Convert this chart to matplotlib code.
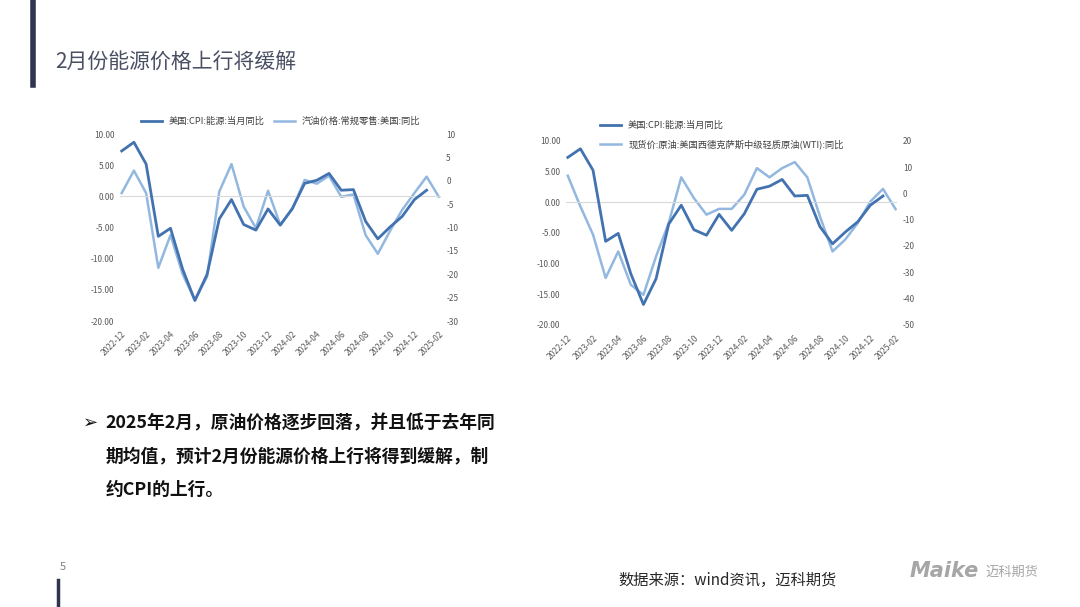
import numpy as np
import matplotlib
matplotlib.use("Agg")
import matplotlib.pyplot as plt

plt.rcParams['font.family'] = ['Noto Sans CJK SC', 'DejaVu Sans']
plt.rcParams['axes.unicode_minus'] = False

# months 2022-12 .. 2025-02
months = ['2022-12', '2023-01', '2023-02', '2023-03', '2023-04', '2023-05', '2023-06',
          '2023-07', '2023-08', '2023-09', '2023-10', '2023-11', '2023-12', '2024-01',
          '2024-02', '2024-03', '2024-04', '2024-05', '2024-06', '2024-07', '2024-08',
          '2024-09', '2024-10', '2024-11', '2024-12', '2025-01', '2025-02']

# US CPI energy yoy (ends 2025-01)
cpi_energy = [7.3, 8.7, 5.2, -6.4, -5.1, -11.7, -16.7, -12.5, -3.6, -0.5, -4.5, -5.4, -2.0,
              -4.6, -1.9, 2.1, 2.6, 3.7, 1.0, 1.1, -4.0, -6.8, -4.9, -3.2, -0.5, 1.0]

# gasoline retail price yoy (right axis, left chart)
gasoline = [-2.6, 2.2, -2.6, -18.6, -11.6, -20.0, -25.5, -20.5, -2.3, 3.6, -5.5, -10.1, -2.1,
            -9.4, -6.0, 0.2, -0.6, 1.1, -3.4, -2.9, -11.6, -15.6, -10.7, -6.2, -2.6, 0.9, -3.4]

# WTI spot yoy (right axis, right chart)
wti = [6.7, -5.0, -15.7, -32.2, -22.1, -34.8, -38.6, -24.0, -11.3, 6.1, -1.8, -8.1, -5.9,
       -5.9, -0.5, 9.6, 6.1, 9.6, 11.9, 6.1, -8.8, -22.1, -17.6, -11.3, -3.1, 1.7, -6.0]

left_ticks = [10, 5, 0, -5, -10, -15, -20]
gas_ticks = [10, 5, 0, -5, -10, -15, -20, -25, -30]
wti_ticks = [20, 10, 0, -10, -20, -30, -40, -50]

DARK = '#4273B0'
LIGHT = '#93B8E0'
TICK = '#595959'

fig = plt.figure(figsize=(10.8, 6.07), dpi=100)
fig.patch.set_facecolor('white')

x = np.arange(len(months))


def style_axes(ax, ax2, ylim2, yticks2):
    ax.set_xlim(-0.15, len(months) - 0.85)
    ax.set_ylim(-20, 10)
    ax.set_yticks(left_ticks)
    ax.set_yticklabels([f'{v:.2f}' for v in left_ticks])
    ax.set_xticks(x[::2])
    ax.set_xticklabels(months[::2], rotation=45, ha='right', rotation_mode='anchor')
    ax.axhline(0, color='#d9d9d9', lw=0.8, zorder=0)
    ax2.set_ylim(*ylim2)
    ax2.set_yticks(yticks2)
    for a in (ax, ax2):
        for s in a.spines.values():
            s.set_visible(False)
        a.tick_params(length=0, labelsize=6, colors=TICK, pad=4)
    ax.tick_params(axis='x', pad=6)


# left chart
ax1 = fig.add_axes([0.111, 0.471, 0.297, 0.308])
ax1b = ax1.twinx()
l1, = ax1.plot(x[:len(cpi_energy)], cpi_energy, color=DARK, lw=2.0, zorder=3)
l2, = ax1b.plot(x, gasoline, color=LIGHT, lw=1.8, zorder=2)
ax1.set_zorder(ax1b.get_zorder() + 1)
ax1.patch.set_visible(False)
style_axes(ax1, ax1b, (-30, 10), gas_ticks)
fig.legend([l1, l2], ['美国:CPI:能源:当月同比', '汽油价格:常规零售:美国:同比'],
           loc='center', bbox_to_anchor=(0.26, 0.80), ncol=2, frameon=False,
           fontsize=6.7, handlelength=2.2, columnspacing=1.0, labelcolor='#404040')

# right chart
ax2 = fig.add_axes([0.524, 0.465, 0.307, 0.303])
ax2b = ax2.twinx()
r1, = ax2.plot(x[:len(cpi_energy)], cpi_energy, color=DARK, lw=2.0, zorder=3)
r2, = ax2b.plot(x, wti, color=LIGHT, lw=1.8, zorder=2)
ax2.set_zorder(ax2b.get_zorder() + 1)
ax2.patch.set_visible(False)
style_axes(ax2, ax2b, (-50, 20), wti_ticks)
fig.legend([r1, r2], ['美国:CPI:能源:当月同比', '现货价:原油:美国西德克萨斯中级轻质原油(WTI):同比'],
           loc='upper left', bbox_to_anchor=(0.548, 0.815), ncol=1, frameon=False,
           fontsize=6.7, handlelength=2.2, labelspacing=1.0, labelcolor='#404040')

# page decoration
fig.add_artist(plt.Line2D([0.031, 0.031], [1.0, 0.86], color='#2F3450', lw=4,
                          transform=fig.transFigure))
fig.text(0.051, 0.897, '2月份能源价格上行将缓解', fontsize=15, color='#4A4F63',
         va='center', ha='left')

fig.text(0.077, 0.303, '➢', fontsize=13, color='#111111', va='center', ha='left',
         family=['DejaVu Sans'])
lines = ['2025年2月，原油价格逐步回落，并且低于去年同',
         '期均值，预计2月份能源价格上行将得到缓解，制',
         '约CPI的上行。']
for i, t in enumerate(lines):
    fig.text(0.098, 0.303 - i * 0.055, t, fontsize=12.8, fontweight='bold',
             color='#111111', va='center', ha='left')

fig.text(0.055, 0.066, '5', fontsize=8, color='#7F7F7F', va='center')
fig.add_artist(plt.Line2D([0.0535, 0.0535], [0.045, 0.0], color='#2F3450', lw=2.5,
                          transform=fig.transFigure))
fig.text(0.573, 0.043, '数据来源：wind资讯，迈科期货', fontsize=11, color='#262626',
         va='center', ha='left')
fig.text(0.842, 0.060, 'Maike', fontsize=15, fontweight='heavy', style='italic',
         color='#A6A6A6', va='center', ha='left', family=['DejaVu Sans'])
fig.text(0.912, 0.058, '迈科期货', fontsize=9.5, color='#A6A6A6', va='center', ha='left')

fig.savefig('out.png', dpi=100, facecolor='white')
